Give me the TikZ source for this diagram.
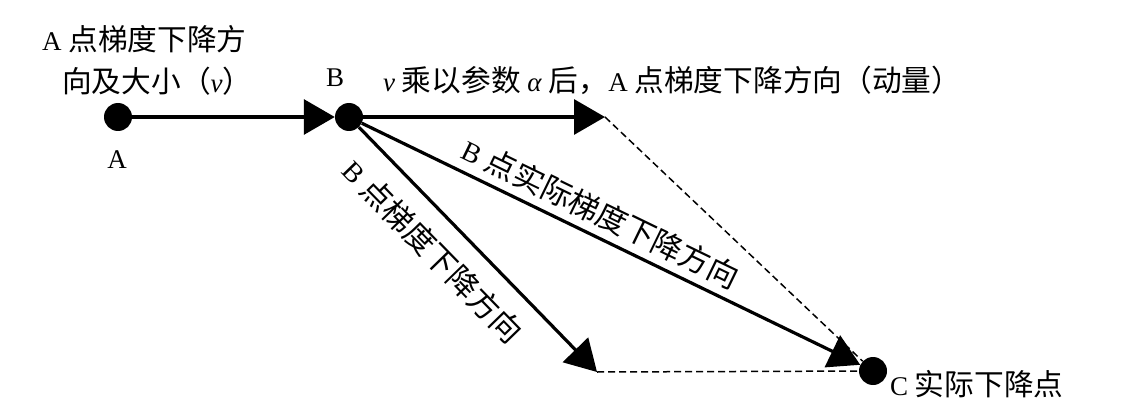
\documentclass[tikz,border=0pt]{standalone}
\usepackage{fontspec}
\setmainfont{Liberation Serif}
\newfontfamily\cjk[Scale=1.1]{Noto Sans CJK SC}
\usetikzlibrary{arrows.meta}
\begin{document}
\begin{tikzpicture}[x=1pt,y=1pt,
  dot/.style={circle,fill=black,inner sep=0pt,minimum size=28pt},
  arr/.style={line width=3.2pt,-{Triangle[length=31pt,width=35pt]}},
  dsh/.style={line width=1.5pt,dash pattern=on 7pt off 4pt},
  lbl/.style={inner sep=0pt,font=\fontsize{27}{30}\selectfont},
  rlbl/.style={inner sep=0pt,font=\fontsize{28}{31}\selectfont}]
\useasboundingbox (0,0) rectangle (1124,413);
\node[dot] (A) at (118,296) {};
\node[dot] (B) at (349,296) {};
\node[dot] (C) at (873,42) {};
\coordinate (P) at (605,296);
\coordinate (Q) at (597,41);
\draw[dsh] (P) -- (C);
\draw[dsh] (Q) -- (C);
\draw[arr] (A) -- (B);
\draw[arr] (B) -- (P);
\draw[arr] (B) -- (Q);
\draw[arr] (B) -- (C);
\node[lbl,anchor=west] (t1) at (42,374) {A {\cjk 点梯度下降方}};
\node[lbl,anchor=west] (t2) at (62,332) {{\cjk 向及大小（}\textit{v}{\cjk ）}};
\node[lbl] (lB) at (335,335) {B};
\node[lbl] (lA) at (117,253) {A};
\node[lbl,anchor=west] (t3) at (383,333) {\textit{v} {\cjk 乘以参数} \textit{α} {\cjk 后，}A {\cjk 点梯度下降方向（动量）}};
\node[lbl,anchor=west] (t4) at (890,29) {C {\cjk 实际下降点}};
\node[rlbl,rotate=-25.9] (t5) at (601,200) {B {\cjk 点实际梯度下降方向}};
\node[rlbl,rotate=-45.8] (t6) at (433,162) {B {\cjk 点梯度下降方向}};
\end{tikzpicture}
\end{document}
